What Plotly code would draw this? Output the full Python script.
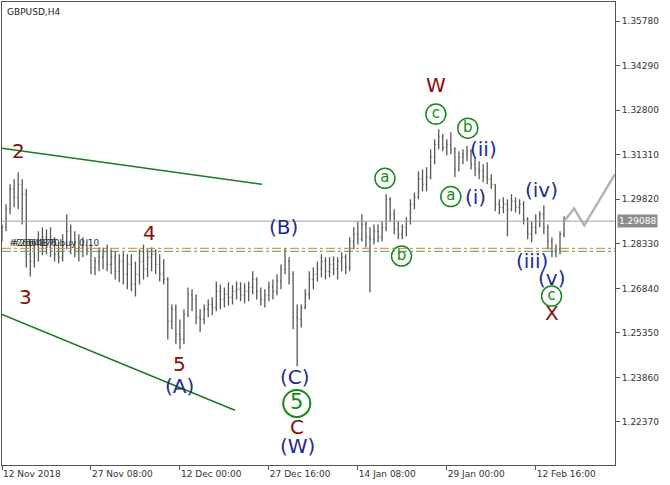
import plotly.graph_objects as go

# ---------------- data ----------------
bar_index = list(range(140))

opens = [1.2848,1.2888,1.2949,1.3016,1.2989,1.3032,1.2999,1.2798,1.2774,1.2815,
         1.2831,1.2855,1.2821,1.2848,1.2798,1.2788,1.2831,1.2875,1.2831,1.2815,
         1.2821,1.2831,1.2815,1.2754,1.2774,1.2788,1.2808,1.2764,1.2788,1.2741,
         1.2774,1.2731,1.2764,1.2697,1.2731,1.2774,1.2748,1.2788,1.2798,1.2764,
         1.2731,1.2714,1.2574,1.2614,1.2530,1.2513,1.2597,1.2664,1.2647,1.2587,
         1.2580,1.2614,1.2630,1.2620,1.2674,1.2647,1.2664,1.2654,1.2674,1.2681,
         1.2661,1.2674,1.2687,1.2714,1.2674,1.2647,1.2661,1.2687,1.2674,1.2707,
         1.2748,1.2774,1.2731,1.2587,1.2580,1.2620,1.2664,1.2714,1.2731,1.2748,
         1.2774,1.2741,1.2764,1.2748,1.2774,1.2788,1.2754,1.2841,1.2865,1.2848,
         1.2898,1.2855,1.2848,1.2875,1.2855,1.2888,1.2982,1.2932,1.2882,1.2865,
         1.2888,1.2908,1.2965,1.2989,1.3049,1.3032,1.3056,1.3123,1.3166,1.3190,
         1.3156,1.3166,1.3149,1.3082,1.3123,1.3133,1.3143,1.3099,1.3082,1.3076,
         1.3056,1.3049,1.3032,1.2965,1.2955,1.2965,1.2949,1.2975,1.2955,1.2965,
         1.2915,1.2865,1.2888,1.2908,1.2932,1.2888,1.2841,1.2808,1.2815,1.2865]

highs = [1.2898,1.2965,1.3032,1.3049,1.3072,1.3049,1.3016,1.2848,1.2848,1.2875,
         1.2888,1.2882,1.2888,1.2855,1.2838,1.2865,1.2932,1.2898,1.2875,1.2865,
         1.2855,1.2848,1.2831,1.2788,1.2821,1.2821,1.2831,1.2815,1.2808,1.2798,
         1.2805,1.2798,1.2798,1.2774,1.2815,1.2831,1.2815,1.2821,1.2815,1.2798,
         1.2781,1.2721,1.2630,1.2630,1.2580,1.2614,1.2687,1.2681,1.2664,1.2614,
         1.2630,1.2647,1.2654,1.2707,1.2697,1.2687,1.2704,1.2694,1.2707,1.2704,
         1.2701,1.2707,1.2741,1.2721,1.2687,1.2681,1.2707,1.2714,1.2731,1.2764,
         1.2818,1.2788,1.2741,1.2630,1.2630,1.2681,1.2741,1.2754,1.2774,1.2798,
         1.2788,1.2788,1.2791,1.2788,1.2805,1.2798,1.2855,1.2888,1.2908,1.2932,
         1.2908,1.2888,1.2898,1.2898,1.2908,1.2999,1.2989,1.2949,1.2908,1.2898,
         1.2922,1.2982,1.3005,1.3076,1.3082,1.3089,1.3149,1.3183,1.3216,1.3200,
         1.3183,1.3206,1.3156,1.3143,1.3149,1.3160,1.3149,1.3123,1.3109,1.3099,
         1.3106,1.3066,1.3032,1.2982,1.2989,1.2982,1.2999,1.2989,1.2982,1.2975,
         1.2922,1.2908,1.2932,1.2942,1.2962,1.2898,1.2855,1.2831,1.2875,1.2925]

lows = [1.2841,1.2875,1.2932,1.2955,1.2949,1.2898,1.2754,1.2724,1.2754,1.2774,
        1.2795,1.2798,1.2788,1.2774,1.2768,1.2774,1.2815,1.2798,1.2788,1.2774,
        1.2788,1.2795,1.2731,1.2728,1.2741,1.2748,1.2741,1.2731,1.2714,1.2704,
        1.2697,1.2681,1.2674,1.2657,1.2697,1.2714,1.2721,1.2741,1.2731,1.2707,
        1.2697,1.2513,1.2547,1.2497,1.2480,1.2497,1.2587,1.2607,1.2564,1.2537,
        1.2564,1.2587,1.2594,1.2607,1.2614,1.2620,1.2627,1.2630,1.2647,1.2641,
        1.2634,1.2641,1.2664,1.2647,1.2627,1.2620,1.2641,1.2647,1.2661,1.2681,
        1.2731,1.2697,1.2547,1.2423,1.2553,1.2614,1.2647,1.2681,1.2707,1.2721,
        1.2714,1.2721,1.2728,1.2714,1.2741,1.2731,1.2741,1.2815,1.2831,1.2841,
        1.2821,1.2671,1.2831,1.2838,1.2841,1.2875,1.2908,1.2865,1.2848,1.2848,
        1.2858,1.2898,1.2949,1.2982,1.3009,1.3009,1.3049,1.3099,1.3149,1.3143,
        1.3129,1.3133,1.3056,1.3076,1.3099,1.3109,1.3082,1.3059,1.3049,1.3039,
        1.3032,1.3016,1.2942,1.2932,1.2935,1.2858,1.2942,1.2938,1.2932,1.2898,
        1.2848,1.2838,1.2865,1.2888,1.2865,1.2815,1.2788,1.2788,1.2798,1.2855]

closes = [1.2888,1.2949,1.3016,1.2989,1.3032,1.2999,1.2798,1.2774,1.2815,1.2831,
          1.2855,1.2821,1.2848,1.2798,1.2788,1.2831,1.2875,1.2831,1.2815,1.2821,
          1.2831,1.2815,1.2754,1.2774,1.2788,1.2808,1.2764,1.2788,1.2741,1.2774,
          1.2731,1.2764,1.2697,1.2731,1.2774,1.2748,1.2788,1.2798,1.2764,1.2731,
          1.2714,1.2574,1.2614,1.2530,1.2513,1.2597,1.2664,1.2647,1.2587,1.2580,
          1.2614,1.2630,1.2620,1.2674,1.2647,1.2664,1.2654,1.2674,1.2681,1.2661,
          1.2674,1.2687,1.2714,1.2674,1.2647,1.2661,1.2687,1.2674,1.2707,1.2748,
          1.2774,1.2731,1.2587,1.2580,1.2620,1.2664,1.2714,1.2731,1.2748,1.2774,
          1.2741,1.2764,1.2748,1.2774,1.2788,1.2754,1.2841,1.2865,1.2848,1.2898,
          1.2855,1.2848,1.2875,1.2855,1.2888,1.2982,1.2932,1.2882,1.2865,1.2888,
          1.2908,1.2965,1.2989,1.3049,1.3032,1.3056,1.3123,1.3166,1.3190,1.3156,
          1.3166,1.3149,1.3082,1.3123,1.3133,1.3143,1.3099,1.3082,1.3076,1.3056,
          1.3049,1.3032,1.2965,1.2955,1.2965,1.2949,1.2975,1.2955,1.2965,1.2915,
          1.2865,1.2888,1.2908,1.2932,1.2888,1.2841,1.2808,1.2815,1.2865,1.29088]

x_tick_pos = [0, 22, 44, 66, 88, 110, 132]
x_tick_labels = ["12 Nov 2018", "27 Nov 08:00", "12 Dec 00:00", "27 Dec 16:00",
                 "14 Jan 08:00", "29 Jan 00:00", "12 Feb 16:00"]
y_ticks = [1.35780, 1.34290, 1.32800, 1.31310, 1.29820, 1.28330,
           1.26840, 1.25350, 1.23860, 1.22370]

current_price = 1.29088
order_level_red = 1.2818
order_level_green = 1.2808

upper_channel_x = [0, 64.3]
upper_channel_y = [1.3153, 1.3032]
lower_channel_x = [0, 57.6]
lower_channel_y = [1.2597, 1.2276]

forecast_x = [139, 141.5, 144.0, 151.6]
forecast_y = [1.29088, 1.2951, 1.2895, 1.3066]

# wave labels: (text, x, y, kind)
plain_labels = [
    ("2", 3.96, 1.3143, "red"), ("3", 5.7, 1.2654, "red"), ("4", 36.6, 1.2868, "red"),
    ("5", 43.8, 1.2430, "red"), ("(A)", 44.0, 1.2356, "blue"), ("(B)", 69.7, 1.2888, "blue"),
    ("(C)", 72.5, 1.2389, "blue"), ("C", 73.0, 1.2219, "red"), ("(W)", 73.0, 1.2156, "blue"),
    ("W", 107.3, 1.3364, "red"), ("(ii)", 119.0, 1.3149, "blue"), ("(i)", 117.0, 1.2989, "blue"),
    ("(iv)", 133.5, 1.3013, "blue"), ("(iii)", 131.0, 1.2775, "blue"), ("(v)", 135.9, 1.2720, "blue"),
    ("X", 136.1, 1.2600, "red"),
]
circle_text = ["c", "b", "a", "a", "b", "c"]
circle_x = [107.3, 115.2, 94.7, 111.0, 98.8, 135.9]
circle_y = [1.3267, 1.3220, 1.3052, 1.2991, 1.2792, 1.2658]
big_circle_text = ["5"]
big_circle_x = [72.9]
big_circle_y = [1.2299]

# ---------------- styling ----------------
RED = "#8b0a0a"
BLUE = "#1f2b8f"
GREEN = "#168a16"
FONT = "DejaVu Sans"

fig = go.Figure()

fig.add_trace(go.Ohlc(
    x=bar_index, open=opens, high=highs, low=lows, close=closes,
    increasing=dict(line=dict(color="#585858", width=1.3)),
    decreasing=dict(line=dict(color="#585858", width=1.3)),
    tickwidth=0.25, showlegend=False, hoverinfo="skip"))

fig.add_trace(go.Scatter(x=upper_channel_x, y=upper_channel_y, mode="lines",
                         line=dict(color="#1a7a1a", width=1.5), showlegend=False, hoverinfo="skip"))
fig.add_trace(go.Scatter(x=lower_channel_x, y=lower_channel_y, mode="lines",
                         line=dict(color="#1a7a1a", width=1.5), showlegend=False, hoverinfo="skip"))
fig.add_trace(go.Scatter(x=forecast_x, y=forecast_y, mode="lines",
                         line=dict(color="#b4b4b4", width=2.5), showlegend=False,
                         hoverinfo="skip", cliponaxis=True))

fig.add_trace(go.Scatter(
    x=circle_x, y=circle_y, mode="markers+text", text=circle_text,
    textposition="middle center", textfont=dict(family=FONT, size=15, color=GREEN),
    marker=dict(symbol="circle-open", size=20, color=GREEN, line=dict(width=1.5, color=GREEN)),
    showlegend=False, hoverinfo="skip", cliponaxis=False))
fig.add_trace(go.Scatter(
    x=big_circle_x, y=big_circle_y, mode="markers+text", text=big_circle_text,
    textposition="middle center", textfont=dict(family=FONT, size=21, color=GREEN),
    marker=dict(symbol="circle-open", size=27, color=GREEN, line=dict(width=2, color=GREEN)),
    showlegend=False, hoverinfo="skip", cliponaxis=False))

# horizontal levels
fig.add_shape(type="line", xref="paper", x0=0, x1=1, y0=current_price, y1=current_price,
              line=dict(color="#a0a0a0", width=1))
fig.add_shape(type="line", xref="paper", x0=0, x1=1, y0=order_level_red, y1=order_level_red,
              line=dict(color="#f06a3c", width=1, dash="dashdot"))
fig.add_shape(type="line", xref="paper", x0=0, x1=1, y0=order_level_green, y1=order_level_green,
              line=dict(color="#3aa83a", width=1, dash="dashdot"))

annotations = []
for txt, xx, yy, kind in plain_labels:
    annotations.append(dict(x=xx, y=yy, text=txt, showarrow=False,
                            font=dict(family=FONT, size=20, color=RED if kind == "red" else BLUE)))
# order labels (overlapping, like the terminal draws them)
annotations.append(dict(x=1.2, y=1.2836, text="#2664876 buy 0.10", showarrow=False, xanchor="left",
                        font=dict(family=FONT, size=9, color="#333333")))
annotations.append(dict(x=1.9, y=1.2836, text="#2664870", showarrow=False, xanchor="left",
                        font=dict(family=FONT, size=9, color="#333333")))
# current price tag
annotations.append(dict(xref="paper", x=1, xanchor="left", xshift=2, y=current_price,
                        text="1.29088", showarrow=False, bgcolor="#8c8c8c",
                        font=dict(family=FONT, size=9, color="white"), borderpad=1))
# symbol title
annotations.append(dict(xref="paper", yref="paper", x=0, y=1, xanchor="left", yanchor="top",
                        xshift=3, yshift=-3, text="GBPUSD,H4", showarrow=False,
                        font=dict(family=FONT, size=9, color="#222222")))

fig.update_layout(
    width=670, height=485,
    margin=dict(l=2, r=55, t=2, b=20),
    paper_bgcolor="white", plot_bgcolor="white",
    annotations=annotations,
    font=dict(family=FONT, size=9, color="#333333"),
    showlegend=False,
)
fig.update_xaxes(
    range=[0, 151.6], tickvals=x_tick_pos, ticktext=x_tick_labels,
    ticks="outside", ticklen=4, tickcolor="#555", showgrid=False, zeroline=False,
    showline=True, linecolor="#555", linewidth=1, mirror=True,
    rangeslider_visible=False, ticklabelposition="outside right",
    tickfont=dict(family=FONT, size=9, color="#333333"))
fig.update_yaxes(
    range=[1.2093, 1.3642], tickvals=y_ticks, tickformat=".5f", side="right",
    ticks="outside", ticklen=4, tickcolor="#555", showgrid=False, zeroline=False,
    showline=True, linecolor="#555", linewidth=1, mirror=True,
    tickfont=dict(family=FONT, size=9, color="#333333"))

fig.write_html("out.html", config={"displayModeBar": False},
               post_script="document.body.style.margin='0px';document.body.style.padding='0px';")
